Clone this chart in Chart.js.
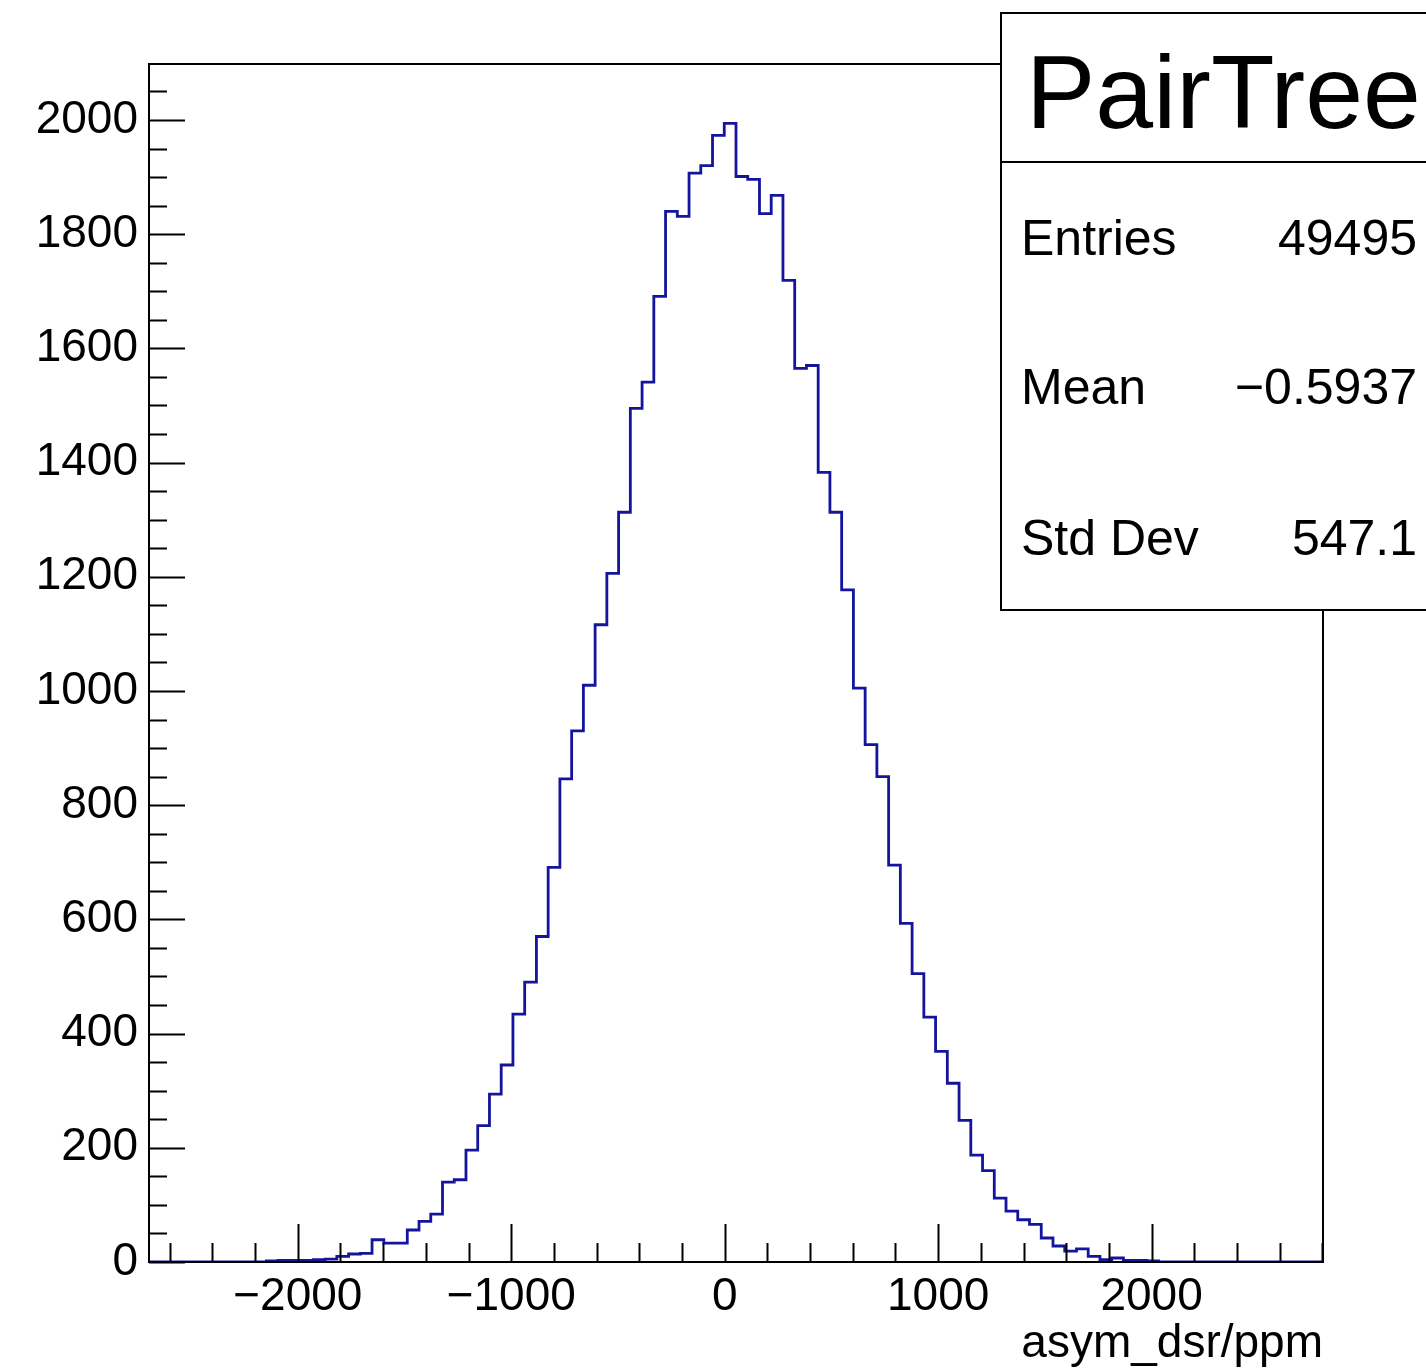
<!DOCTYPE html>
<html lang="en">

<head>
    <meta charset="UTF-8">
    <title>asym_dsr</title>
    <script src="https://cdn.jsdelivr.net/npm/chart.js"></script>
    <style>
        html, body { margin: 0; padding: 0; background: #fff; }
        #wrap { width: 1426px; height: 1371px; }
    </style>
</head>

<body>
    <div id="wrap"><canvas id="histChart" width="1426" height="1371"></canvas></div>

    <script>
        // histogram binning (100 bins)
        const binLow = -2697;
        const binWidth = 55;
        const binCount = 100;
        const yMax = 2098;

        // counts per bin
        const counts = [
            0, 0, 0, 0, 0, 0, 0, 0, 0, 0,
            2, 3, 3, 3, 4, 5, 10, 14, 15, 39,
            33, 33, 56, 71, 84, 140, 144, 196, 239, 294,
            345, 434, 490, 570, 691, 846, 930, 1010, 1116, 1206,
            1313, 1495, 1541, 1691, 1840, 1831, 1907, 1920, 1973, 1994,
            1901, 1896, 1836, 1868, 1719, 1565, 1570, 1383, 1313, 1177,
            1005, 906, 850, 695, 593, 505, 429, 369, 313, 248,
            187, 160, 112, 89, 74, 66, 42, 28, 19, 23,
            10, 4, 7, 3, 3, 2, 0, 0, 0, 0,
            0, 0, 0, 0, 0, 0, 0, 0, 0, 0
        ];

        const xTickValues = [-2000, -1000, 0, 1000, 2000];
        const yTickValues = [0, 200, 400, 600, 800, 1000, 1200, 1400, 1600, 1800, 2000];

        const statsTitle = "PairTree";
        const statsNames = ["Entries", "Mean", "Std Dev"];
        const statsValues = ["49495", "\u22120.5937", "547.1"];

        const xTitle = "asym_dsr/ppm";
        const fontName = "'Liberation Sans', Arial, Helvetica, sans-serif";

        // step points: left edge of every bin, plus the final right edge
        const points = [];
        for (let i = 0; i < binCount; i++) {
            points.push({ x: binLow + i * binWidth, y: counts[i] });
        }
        points.push({ x: binLow + binCount * binWidth, y: counts[binCount - 1] });

        // ROOT style frame, inner ticks, axis title and stats box
        const rootDecor = {
            id: 'rootDecor',
            afterDraw(chart) {
                const c = chart.ctx;
                const a = chart.chartArea;
                const xs = chart.scales.x;
                const ys = chart.scales.y;
                c.save();
                c.strokeStyle = '#000';
                c.lineWidth = 2;
                c.strokeRect(a.left, a.top, a.right - a.left, a.bottom - a.top);

                c.beginPath();
                // y ticks: major 200, minor 50
                for (let v = 0; v <= ys.max; v += 50) {
                    const py = Math.round(ys.getPixelForValue(v)) + 0.5;
                    const len = (v % 200 === 0) ? 36 : 18;
                    c.moveTo(a.left, py);
                    c.lineTo(a.left + len, py);
                }
                // x ticks: major 1000, minor 200
                for (let v = -2600; v <= xs.max; v += 200) {
                    const px = Math.round(xs.getPixelForValue(v)) + 0.5;
                    const len = (v % 1000 === 0) ? 38 : 19;
                    c.moveTo(px, a.bottom);
                    c.lineTo(px, a.bottom - len);
                }
                c.stroke();

                // x axis title, right aligned to the frame
                c.fillStyle = '#000';
                c.textBaseline = 'alphabetic';
                c.textAlign = 'right';
                c.font = '46px ' + fontName;
                c.fillText(xTitle, a.right, 1357);

                // stats box
                const bx = 1001, by = 13, bw = 500, bh = 597;
                c.fillStyle = '#fff';
                c.fillRect(bx, by, bw, bh);
                c.strokeRect(bx, by, bw, bh);
                c.beginPath();
                c.moveTo(bx, 162);
                c.lineTo(bx + bw, 162);
                c.stroke();

                c.fillStyle = '#000';
                c.textAlign = 'left';
                c.font = '104px ' + fontName;
                c.fillText(statsTitle, 1026, 128);

                const rows = [255, 404, 555];
                c.font = '50px ' + fontName;
                statsNames.forEach((n, i) => {
                    c.textAlign = 'left';
                    c.fillText(n, 1021, rows[i]);
                    c.textAlign = 'right';
                    c.fillText(statsValues[i], 1417, rows[i]);
                });
                c.restore();
            }
        };

        const ctx = document.getElementById('histChart');
        const chart = new Chart(ctx, {
            type: 'line',
            data: {
                datasets: [{
                    data: points,
                    stepped: 'before',
                    borderColor: '#14149c',
                    borderWidth: 2.8,
                    pointRadius: 0,
                    fill: false
                }]
            },
            options: {
                responsive: false,
                animation: false,
                devicePixelRatio: 1,
                layout: {
                    padding: { left: 0, top: 64, right: 103, bottom: 0 }
                },
                plugins: {
                    legend: { display: false },
                    tooltip: { enabled: false }
                },
                scales: {
                    x: {
                        type: 'linear',
                        min: binLow,
                        max: binLow + binCount * binWidth,
                        grid: { display: false },
                        border: { display: false },
                        afterBuildTicks: (s) => { s.ticks = xTickValues.map(v => ({ value: v })); },
                        ticks: {
                            autoSkip: false,
                            maxRotation: 0,
                            padding: 0,
                            color: '#000',
                            font: { family: fontName, size: 46 },
                            callback: (v) => v < 0 ? '\u2212' + Math.abs(v) : String(v)
                        },
                        afterFit: (s) => { s.height = 109; }
                    },
                    y: {
                        min: 0,
                        max: yMax,
                        grid: { display: false },
                        border: { display: false },
                        afterBuildTicks: (s) => { s.ticks = yTickValues.map(v => ({ value: v })); },
                        ticks: {
                            autoSkip: false,
                            padding: 3,
                            color: '#000',
                            font: { family: fontName, size: 46 },
                            callback: (v) => String(v)
                        },
                        afterFit: (s) => { s.width = 149; }
                    }
                }
            },
            plugins: [rootDecor]
        });
    </script>
</body>

</html>
